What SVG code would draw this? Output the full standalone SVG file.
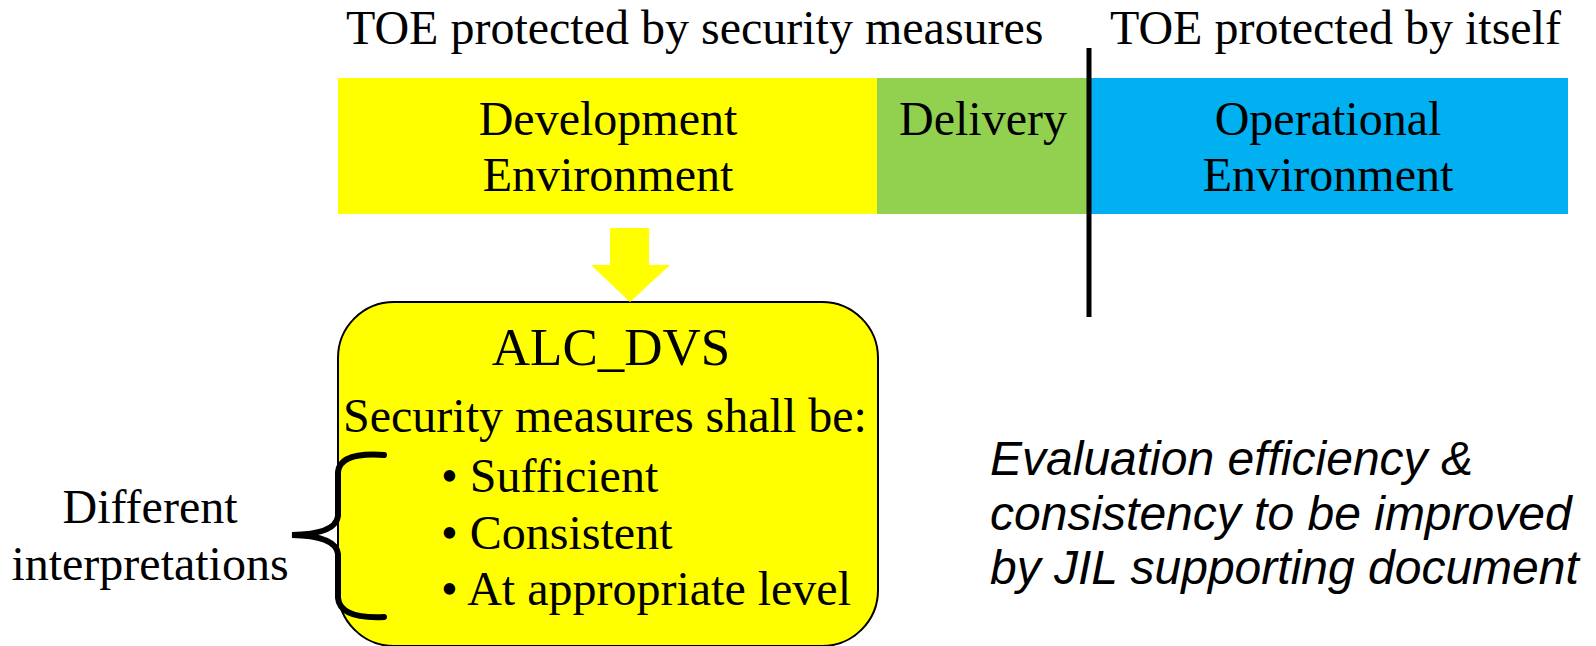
<svg xmlns="http://www.w3.org/2000/svg" width="1596" height="646" viewBox="0 0 1596 646">
<style>
.t{font-family:"Liberation Serif","Times New Roman",serif;font-size:48px;fill:#000}
.c{text-anchor:middle}
.i{font-family:"Liberation Sans",Arial,sans-serif;font-size:48px;font-style:italic;fill:#000}
</style>
<rect width="1596" height="646" fill="#fff"/>
<text class="t" x="346" y="44">TOE protected by security measures</text>
<text class="t" x="1110" y="44">TOE protected by itself</text>
<g id="dev">
<rect x="338" y="78" width="539" height="136" fill="#FFFF00"/>
<text class="t c" x="608" y="135">Development</text>
<text class="t c" x="608" y="191">Environment</text>
</g>
<g id="delivery">
<rect x="877" y="78" width="212" height="136" fill="#92D050"/>
<text class="t c" x="983" y="135">Delivery</text>
</g>
<g id="oper">
<rect x="1089" y="78" width="479" height="136" fill="#00B0F0"/>
<text class="t c" x="1328" y="135">Operational</text>
<text class="t c" x="1328" y="191">Environment</text>
</g>
<g id="alc">
<rect x="338" y="302" width="540" height="344" rx="56" ry="56" fill="#FFFF00" stroke="#000" stroke-width="2"/>
<text class="t c" x="611" y="365" style="font-size:53px">ALC_DVS</text>
<text class="t c" x="605" y="432">Security measures shall be:</text>
<text class="t" x="441" y="492">• Sufficient</text>
<text class="t" x="441" y="549">• Consistent</text>
<text class="t" x="441" y="605">• At appropriate level</text>
</g>
<g id="interp">
<text class="t c" x="150" y="523">Different</text>
<text class="t c" x="150" y="580">interpretations</text>
</g>
<g id="note">
<text class="i" x="990" y="475">Evaluation efficiency &amp;</text>
<text class="i" x="990" y="530">consistency to be improved</text>
<text class="i" x="990" y="584">by JIL supporting document</text>
</g>
<g id="connectors">
<line x1="1089" y1="48" x2="1089" y2="317" stroke="#000" stroke-width="5"/>
<polygon points="610,228 649,228 649,265 670,265 630,302 591,265 610,265" fill="#FFFF00"/>
<path d="M384,455 Q340,452 338,472 L338,516 Q336,534 292,535 Q336,536 338,554 L338,598 Q340,619 384,617" fill="none" stroke="#000" stroke-width="6" stroke-linecap="round"/>
</g>
</svg>
